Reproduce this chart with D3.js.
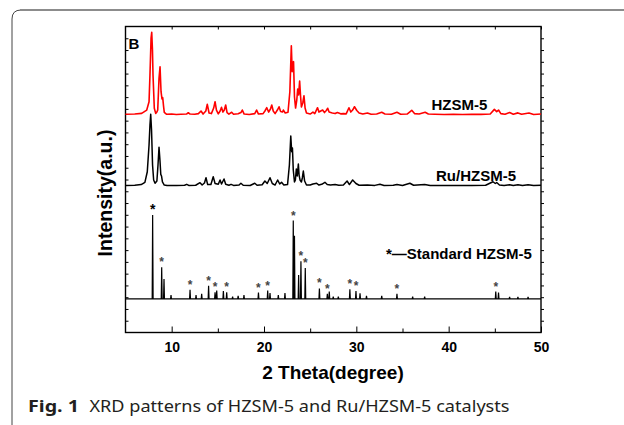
<!DOCTYPE html>
<html>
<head>
<meta charset="utf-8">
<script src="https://cdn.jsdelivr.net/npm/d3@7"></script>
<style>
  body { margin: 0; background: #fff; }
  text { font-family: "Liberation Sans", Arial, sans-serif; }
  .caption { font-family: "Noto Sans", "Open Sans", sans-serif; fill: #231f20; }
</style>
</head>
<body>
<svg width="624" height="425"></svg>
<script>
// ---- data: [2theta, intensity (a.u.)] ----
const hzsm5 = [
  [5.0, 2], [6.0, 4], [6.75, 10], [7.3, 38], [7.55, 109], [7.65, 336], [7.77, 650], [7.84, 699],
  [7.92, 548], [7.98, 336], [8.12, 53], [8.27, 10], [8.4, 21], [8.49, 38], [8.63, 308], [8.74, 406],
  [8.85, 194], [8.95, 132], [9.03, 143], [9.12, 72], [9.2, 19], [9.46, 2], [10.0, 4], [10.5, 0],
  [11.0, 2], [11.6, 4], [11.8, 15], [12.0, 4], [12.5, 3], [12.9, 8], [13.18, 30], [13.4, 4],
  [13.7, 30], [13.86, 87], [14.05, 13], [14.3, 8], [14.55, 55], [14.7, 109], [14.85, 38], [15.05, 6],
  [15.25, 30], [15.4, 61], [15.55, 21], [15.7, 38], [15.85, 81], [16.0, 17], [16.2, 4], [16.5, 19],
  [16.7, 2], [17.2, 6], [17.5, 17], [17.65, 38], [17.85, 4], [18.4, 0], [19.0, 8], [19.2, 38],
  [19.4, 4], [19.9, 8], [20.1, 30], [20.3, 58], [20.5, 21], [20.7, 47], [20.84, 81], [21.0, 30],
  [21.2, 8], [21.45, 38], [21.63, 66], [21.8, 25], [22.0, 21], [22.1, 38], [22.3, 13], [22.6, 19],
  [22.8, 194], [22.96, 585], [23.05, 364], [23.12, 444], [23.2, 449], [23.3, 151], [23.42, 55],
  [23.55, 123], [23.65, 217], [23.75, 166], [23.86, 285], [23.95, 166], [24.05, 64], [24.2, 98],
  [24.33, 160], [24.45, 55], [24.6, 13], [25.0, 4], [25.3, 21], [25.5, 8], [25.8, 58], [25.95, 21],
  [26.15, 30], [26.35, 38], [26.55, 17], [26.75, 34], [26.9, 53], [27.05, 21], [27.4, 13], [27.7, 8],
  [27.95, 17], [28.3, 6], [28.6, 8], [28.9, 6], [29.2, 58], [29.4, 21], [29.6, 38], [29.8, 66],
  [30.05, 34], [30.3, 13], [30.7, 4], [31.2, 13], [31.6, 2], [32.2, 4], [32.75, 19], [33.1, 4],
  [33.8, 2], [34.4, 19], [34.8, 3], [35.5, 4], [36.0, 36], [36.3, 8], [36.8, 4], [37.45, 19],
  [37.8, 4], [38.5, 2], [39.5, 0], [40.5, 2], [41.5, 0], [42.5, 2], [43.5, 1], [44.5, 4],
  [44.95, 44], [45.2, 25], [45.4, 38], [45.65, 8], [46.1, 3], [46.6, 17], [47.0, 2], [47.5, 14],
  [47.9, 2], [48.7, 13], [49.2, 0], [50.0, 4]
];

const ruHzsm5 = [
  [5.0, 0], [6.0, 3], [6.7, 9], [7.1, 28], [7.36, 118], [7.55, 345], [7.65, 515], [7.73, 606],
  [7.82, 473], [7.93, 175], [8.05, 48], [8.2, 20], [8.4, 39], [8.52, 175], [8.63, 326], [8.73, 218],
  [8.82, 96], [8.9, 82], [9.0, 31], [9.2, 5], [9.5, 1], [10.5, 2], [11.4, 3], [11.63, 11],
  [11.85, 2], [12.6, 3], [13.07, 25], [13.3, 5], [13.55, 22], [13.72, 67], [13.9, 9], [14.25, 9],
  [14.5, 76], [14.7, 18], [15.05, 11], [15.24, 48], [15.4, 14], [15.67, 56], [15.85, 11], [16.2, 3],
  [16.43, 11], [16.7, 2], [17.3, 5], [17.5, 20], [17.75, 3], [18.5, 1], [19.0, 20], [19.25, 3],
  [19.8, 7], [20.1, 39], [20.35, 18], [20.65, 67], [20.9, 18], [21.2, 5], [21.48, 48], [21.7, 14],
  [21.9, 28], [22.15, 5], [22.55, 9], [22.75, 175], [22.9, 422], [23.0, 288], [23.08, 320],
  [23.17, 133], [23.3, 31], [23.4, 48], [23.5, 141], [23.6, 82], [23.72, 184], [23.8, 90],
  [23.9, 48], [24.05, 31], [24.15, 65], [24.26, 124], [24.4, 39], [24.6, 5], [25.0, 5], [25.3, 14],
  [25.7, 20], [25.95, 5], [26.25, 11], [26.6, 28], [26.85, 9], [27.2, 5], [27.7, 9], [28.1, 3],
  [28.6, 5], [29.0, 39], [29.25, 9], [29.6, 48], [29.96, 18], [30.3, 3], [31.2, 5], [32.0, 2],
  [32.56, 11], [33.0, 1], [34.0, 3], [34.4, 9], [35.0, 1], [35.8, 20], [36.2, 3], [37.4, 9],
  [38.0, 1], [39.5, 2], [41.0, 0], [42.5, 2], [44.0, 3], [44.8, 33], [45.05, 18], [45.2, 26],
  [45.5, 5], [46.0, 2], [46.6, 7], [47.0, 1], [47.5, 7], [48.0, 1], [48.6, 7], [49.2, 1], [50.0, 3]
];

// standard HZSM-5 reference lines
const stdPeaks = [
  [7.94, 714], [8.92, 269], [9.17, 170], [9.93, 34], [11.99, 77], [12.64, 34], [13.25, 43],
  [14.0, 113], [14.7, 57], [14.88, 71], [15.6, 68], [15.96, 57], [16.6, 20], [17.2, 26],
  [17.83, 34], [19.4, 54], [20.4, 71], [20.65, 51], [21.55, 34], [22.27, 51], [23.17, 666],
  [23.3, 536], [23.75, 204], [24.0, 320], [24.47, 263], [26.0, 89], [26.86, 43], [27.07, 62],
  [27.5, 21], [28.05, 21], [29.3, 82], [29.96, 68], [30.4, 48], [31.1, 26], [32.75, 26],
  [34.4, 43], [36.1, 21], [37.4, 21], [45.1, 62], [45.4, 54], [46.6, 17], [47.5, 17], [48.6, 17]
];
const starred = [7.94, 8.92, 11.99, 14.0, 14.7, 15.96, 19.4, 20.4, 23.17, 24.0, 24.47,
  26.0, 26.86, 29.3, 29.96, 34.4, 45.1];

// vertical stacking offsets
const offsets = { hzsm5: 1852, ru: 1248, std: 285 };

const xMajor = [10, 20, 30, 40, 50];
const xMinor = [15, 25, 35, 45];

// ---- layout ----
const svg = d3.select('svg');
const margin = { top: 26.5, right: 83, bottom: 92.5, left: 125.5 };
const width = 624, height = 425;
const innerWidth = width - margin.left - margin.right;
const innerHeight = height - margin.top - margin.bottom;

// figure box
svg.append('path')
  .attr('d', 'M12,425 L12,19 Q12,10 21,10 L624,10')
  .attr('fill', 'none').attr('stroke', '#444').attr('stroke-width', 1);
svg.append('line')
  .attr('x1', 20).attr('x2', 624).attr('y1', 10).attr('y2', 10)
  .attr('stroke', '#8c8c8c').attr('stroke-width', 2);

const g = svg.append('g')
  .attr('transform', `translate(${margin.left},${margin.top})`);

const xScale = d3.scaleLinear().domain([5, 50]).range([0, innerWidth]);
const yScale = d3.scaleLinear().domain([0, 2600]).range([innerHeight, 0]);

const yTicks = d3.range(100, 2600, 100);

// axes (ticks only, frame drawn separately)
const xAxisG = g.append('g').attr('transform', `translate(0,${innerHeight})`)
  .call(d3.axisBottom(xScale).tickValues(xMajor).tickSize(-6).tickPadding(10).tickFormat(d3.format('d')));
const bare = [
  g.append('g').attr('transform', `translate(0,${innerHeight})`)
    .call(d3.axisBottom(xScale).tickValues(xMinor).tickSize(-4)),
  g.append('g')
    .call(d3.axisTop(xScale).tickValues(xMajor.concat(xMinor)).tickSize(-3)),
  g.append('g')
    .call(d3.axisLeft(yScale).tickValues(yTicks).tickSize(-3)),
  g.append('g').attr('transform', `translate(${innerWidth},0)`)
    .call(d3.axisRight(yScale).tickValues(yTicks).tickSize(3))
];
bare.forEach(a => a.selectAll('.tick text').remove());

g.selectAll('.domain').remove();
g.selectAll('.tick line').attr('stroke', '#000').attr('stroke-width', 1);
xAxisG.selectAll('text')
  .attr('font-size', 14).attr('font-weight', 'bold').attr('fill', '#000')
  .attr('font-family', '"Liberation Sans", Arial, sans-serif');

g.append('rect')
  .attr('width', innerWidth).attr('height', innerHeight)
  .attr('fill', 'none').attr('stroke', '#000').attr('stroke-width', 1.4);

// patterns
const line = off => d3.line()
  .x(d => xScale(d[0]))
  .y(d => yScale(d[1] + off));

g.append('path')
  .attr('d', line(offsets.hzsm5)(hzsm5))
  .attr('fill', 'none').attr('stroke', '#ff0000').attr('stroke-width', 1.6)
  .attr('stroke-linejoin', 'round');

g.append('path')
  .attr('d', line(offsets.ru)(ruHzsm5))
  .attr('fill', 'none').attr('stroke', '#000').attr('stroke-width', 1.5)
  .attr('stroke-linejoin', 'round');

// standard: baseline plus sticks
const stdLine = [[5, 0]];
stdPeaks.forEach(p => {
  stdLine.push([p[0] - 0.05, 0], [p[0], p[1]], [p[0] + 0.05, 0]);
});
stdLine.push([50, 0]);
g.append('path')
  .attr('d', line(offsets.std)(stdLine))
  .attr('fill', 'none').attr('stroke', '#000').attr('stroke-width', 1.2);

const peakHeight = t => stdPeaks.find(p => p[0] === t)[1];
g.selectAll('.star').data(starred).join('text')
  .attr('class', 'star')
  .attr('x', d => xScale(d))
  .attr('y', d => yScale(peakHeight(d) + offsets.std) - 1)
  .attr('text-anchor', 'middle')
  .attr('font-size', (d, i) => i === 0 ? 14 : 12)
  .attr('font-weight', 'bold')
  .attr('fill', (d, i) => i === 0 ? '#000' : '#444')
  .text('*');

// labels
g.append('text').attr('x', 3).attr('y', 22.5)
  .attr('font-size', 15).attr('font-weight', 'bold').text('B');

svg.append('text').attr('x', 431.5).attr('y', 110)
  .attr('font-size', 15).attr('font-weight', 'bold').text('HZSM-5');
svg.append('text').attr('x', 436).attr('y', 181)
  .attr('font-size', 15).attr('font-weight', 'bold').text('Ru/HZSM-5');
svg.append('text').attr('x', 386).attr('y', 258.5)
  .attr('font-size', 15).attr('font-weight', 'bold').text('*—Standard HZSM-5');

svg.append('text')
  .attr('x', 333).attr('y', 379)
  .attr('text-anchor', 'middle')
  .attr('font-size', 19).attr('font-weight', 'bold')
  .text('2 Theta(degree)');

svg.append('text')
  .attr('transform', 'translate(112,193) rotate(-90)')
  .attr('text-anchor', 'middle')
  .attr('font-size', 19.5).attr('font-weight', 'bold')
  .text('Intensity(a.u.)');

// caption
svg.append('text').attr('class', 'caption')
  .attr('x', 28).attr('y', 412)
  .attr('font-size', 15.5).attr('font-weight', 'bold')
  .attr('textLength', 51).attr('lengthAdjust', 'spacingAndGlyphs')
  .text('Fig. 1');
svg.append('text').attr('class', 'caption')
  .attr('x', 89.5).attr('y', 412)
  .attr('font-size', 15.5)
  .attr('textLength', 420).attr('lengthAdjust', 'spacingAndGlyphs')
  .text('XRD patterns of HZSM-5 and Ru/HZSM-5 catalysts');
</script>
</body>
</html>
